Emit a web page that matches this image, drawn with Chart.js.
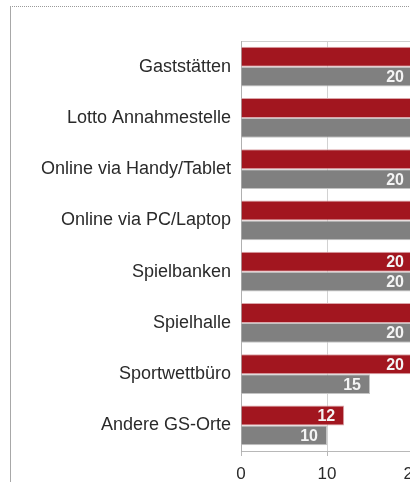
<!DOCTYPE html>
<html>
<head>
<meta charset="utf-8">
<script src="https://cdn.jsdelivr.net/npm/chart.js@4.4.1/dist/chart.umd.min.js"></script>
<style>
  html, body { margin: 0; padding: 0; background: #fff; overflow: hidden; width: 410px; height: 482px; }
  .frame {
    position: absolute; left: 10px; top: 6px;
    width: 640px; height: 476px;
    border-left: 1px solid #a8a8a8;
    border-top: 1px dotted #9a9a9a;
  }
  .frame canvas { position: absolute; left: 0; top: 0; }
</style>
</head>
<body>
<div class="frame">
  <canvas id="chart" width="600" height="475" style="width:600px;height:475px"></canvas>
</div>
<script>
// Categories top to bottom; the right part of the chart is cut off in the reference,
// so values for bars running past the edge are estimates (> 20).
const categories = [
  'Gaststätten',
  'Lotto Annahmestelle',
  'Online via Handy/Tablet',
  'Online via PC/Laptop',
  'Spielbanken',
  'Spielhalle',
  'Sportwettbüro',
  'Andere GS-Orte',
];
const redValues  = [35, 38, 33, 36, 20, 30, 20, 12];
const grayValues = [20, 29, 20, 27, 20, 20, 15, 10];
const xTicks = [0, 10, 20, 30, 40];

const FONT = "'Liberation Sans', Arial, sans-serif";

// value labels drawn inside the end of every bar
const barValueLabels = {
  id: 'barValueLabels',
  afterDatasetsDraw(chart) {
    const { ctx } = chart;
    ctx.save();
    ctx.font = 'bold 16px ' + FONT;
    ctx.fillStyle = '#f4f4f4';
    ctx.textAlign = 'right';
    ctx.textBaseline = 'middle';
    chart.data.datasets.forEach((ds, i) => {
      chart.getDatasetMeta(i).data.forEach((bar, j) => {
        ctx.fillText(String(ds.data[j]), bar.x - 9, bar.y + 1);
      });
    });
    ctx.restore();
  },
};

new Chart(document.getElementById('chart'), {
  type: 'bar',
  data: {
    labels: categories,
    datasets: [
      {
        data: redValues,
        backgroundColor: '#a2161f',
        borderColor: '#dba6aa',
        borderWidth: 1,
        barPercentage: 1,
        categoryPercentage: 0.78,
      },
      {
        data: grayValues,
        backgroundColor: '#808080',
        borderColor: '#c4c4c4',
        borderWidth: 1,
        barPercentage: 1,
        categoryPercentage: 0.78,
      },
    ],
  },
  options: {
    indexAxis: 'y',
    responsive: false,
    animation: false,
    layout: { padding: { left: 0, right: 26, top: 0, bottom: 0 } },
    plugins: { legend: { display: false }, tooltip: { enabled: false } },
    scales: {
      x: {
        position: 'bottom',
        min: xTicks[0],
        max: xTicks[xTicks.length - 1],
        afterBuildTicks: (s) => { s.ticks = xTicks.map(v => ({ value: v })); },
        afterFit: (s) => { s.height = 31; },
        grid: { color: '#d2d2d2', tickColor: '#b8b8b8', tickLength: 5 },
        border: { color: '#b8b8b8' },
        ticks: { color: '#2a2a2a', font: { family: FONT, size: 17 }, padding: 8 },
      },
      x2: {
        position: 'top',
        min: xTicks[0],
        max: xTicks[xTicks.length - 1],
        afterFit: (s) => { s.height = 34; },
        grid: { display: false },
        border: { color: '#cfcfcf' },
        ticks: { display: false },
      },
      y: {
        afterFit: (s) => { s.width = 230; },
        grid: { display: false, drawTicks: false },
        border: { color: '#b0b0b0' },
        ticks: { color: '#2a2a2a', font: { family: FONT, size: 18 }, padding: 10 },
      },
    },
  },
  plugins: [barValueLabels],
});
</script>
</body>
</html>
